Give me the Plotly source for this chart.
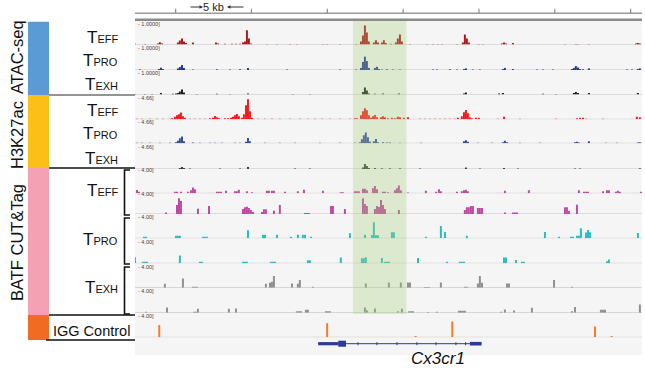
import plotly.graph_objects as go

W, H = 645, 368
def X(px): return px / W
def Y(py): return 1 - py / H

FONT = "Liberation Sans, Arial, sans-serif"

# ---------------- data (genomic position in kb, signal value) ----------------
ruler_ticks_kb = [0, 5, 10, 15, 20, 25, 30]
view_kb = [-2.68, 30.75]
highlight_kb = [11.69, 15.22]
bin_kb = 0.13

atac_teff_pos = [-2.68,-2.02,-1.17,-1.04,-0.90,0.15,0.28,0.42,0.55,0.68,1.14,2.66,2.79,3.25,3.71,3.98,4.24,4.44,4.57,4.70,4.83,4.96,6.02,6.68,7.53,7.99,9.71,9.97,10.83,11.89,12.22,12.35,12.48,12.61,12.74,13.07,13.21,13.34,13.60,13.73,13.86,14.19,14.52,14.65,14.79,14.92,15.45,16.57,16.97,17.30,17.56,18.55,18.94,19.07,19.20,19.33,19.99,20.26,21.51,21.65,21.78,22.24,25.67,26.39,26.53,27.25,30.35,30.48,30.61]
atac_teff_val = [0.03,0.02,0.04,0.10,0.04,0.09,0.17,0.26,0.13,0.07,0.09,0.09,0.04,0.03,0.03,0.03,0.03,0.09,0.13,0.62,0.26,0.04,0.02,0.02,0.02,0.02,0.02,0.02,0.02,0.02,0.13,0.39,0.83,0.52,0.13,0.09,0.19,0.09,0.09,0.19,0.07,0.03,0.09,0.26,0.43,0.13,0.02,0.02,0.02,0.02,0.02,0.02,0.09,0.43,0.26,0.09,0.02,0.02,0.04,0.09,0.04,0.07,0.02,0.02,0.02,0.02,0.04,0.07,0.04]

atac_tpro_pos = [-2.35,-1.10,-0.97,-0.84,0.15,0.28,0.42,0.55,1.14,2.72,3.58,4.24,4.77,7.34,10.83,11.89,12.22,12.35,12.48,12.61,12.74,13.14,13.28,13.41,13.60,13.93,14.33,14.79,16.97,17.23,18.08,18.55,19.01,19.14,19.60,20.06,21.58,21.71,22.24,23.82,24.22,24.88,26.13,26.26,26.39,26.53,26.66,26.86,27.25,29.76,30.09,30.48,30.61]
atac_tpro_val = [0.02,0.04,0.10,0.04,0.07,0.13,0.22,0.09,0.02,0.03,0.02,0.03,0.09,0.02,0.02,0.02,0.09,0.35,0.58,0.39,0.09,0.09,0.14,0.04,0.02,0.03,0.02,0.02,0.02,0.02,0.03,0.02,0.04,0.07,0.02,0.02,0.04,0.09,0.04,0.02,0.02,0.02,0.04,0.09,0.17,0.11,0.04,0.03,0.07,0.02,0.02,0.04,0.07]

atac_texh_pos = [-2.68,-2.02,-1.56,-0.97,-0.18,0.02,0.15,0.28,0.42,0.55,1.40,2.72,3.58,4.77,7.73,8.85,12.35,12.48,12.61,12.74,13.14,13.67,14.72,19.01,19.14,21.32,21.58,24.22,25.08,26.26,26.39,26.53,27.25,30.48]
atac_texh_val = [0.02,0.02,0.02,0.07,0.03,0.04,0.07,0.13,0.22,0.09,0.02,0.03,0.02,0.04,0.02,0.02,0.11,0.30,0.17,0.04,0.03,0.04,0.04,0.04,0.09,0.04,0.07,0.03,0.02,0.07,0.11,0.07,0.07,0.07]

h3k_teff_pos = [-2.55,-2.22,-1.69,-1.23,-0.84,-0.38,-0.24,-0.05,0.09,0.22,0.35,0.48,0.61,0.94,1.27,1.60,1.93,2.26,2.46,2.59,2.72,2.85,3.25,3.45,3.65,3.78,3.91,4.04,4.17,4.37,4.50,4.64,4.77,4.90,5.03,5.43,5.89,6.35,6.87,7.53,8.19,8.72,9.18,9.65,10.17,10.83,11.49,11.82,11.95,12.22,12.35,12.48,12.61,12.74,12.88,13.01,13.14,13.28,13.54,13.67,13.80,14.00,14.26,14.46,14.65,14.79,15.05,15.32,16.11,16.44,16.77,17.10,17.43,17.76,18.08,18.41,18.61,18.87,19.01,19.14,19.27,19.40,19.53,19.80,19.99,21.25,21.65,22.70,25.08,26.46,26.66,26.86,27.06,28.18,30.41,30.61]
h3k_teff_val = [0.10,0.10,0.10,0.10,0.10,0.10,0.20,0.51,0.81,1.01,1.36,0.61,0.30,0.10,0.10,0.10,0.10,0.20,0.30,0.67,0.41,0.20,0.20,0.20,0.30,0.51,0.81,1.07,0.61,0.30,1.01,2.84,4.05,1.62,0.30,0.10,0.10,0.10,0.10,0.10,0.10,0.10,0.10,0.10,0.10,0.10,0.10,0.20,0.20,0.81,1.62,2.23,1.82,0.81,0.30,0.61,0.87,0.41,0.41,0.61,0.41,0.20,0.30,0.20,0.51,0.41,0.30,0.41,0.12,0.12,0.12,0.12,0.12,0.12,0.12,0.12,0.30,0.61,1.42,1.88,1.22,0.41,0.20,0.30,0.30,0.10,0.51,0.10,0.10,0.20,0.30,0.30,0.10,0.10,0.51,0.41]

h3k_tpro_pos = [-2.55,-2.22,-1.69,-1.04,-0.38,0.02,0.15,0.28,0.42,0.55,1.14,1.60,2.26,2.59,3.05,3.91,4.24,4.64,4.77,4.90,5.89,6.87,7.87,9.51,10.83,11.82,12.15,12.28,12.41,12.54,12.68,12.81,13.07,13.21,13.34,13.67,13.93,14.13,14.79,16.18,19.01,19.14,19.27,19.93,20.85,21.58,21.71,21.85,22.70,24.02,26.33,26.46,26.59,27.25,28.37,29.09,30.48,30.61]
h3k_tpro_val = [0.10,0.10,0.10,0.10,0.10,0.20,0.51,1.01,1.36,0.41,0.14,0.10,0.10,0.10,0.10,0.10,0.10,0.30,1.07,0.41,0.10,0.10,0.10,0.10,0.10,0.10,0.20,0.81,1.62,2.17,1.22,0.30,0.41,0.87,0.20,0.20,0.14,0.14,0.10,0.10,0.41,0.61,0.30,0.10,0.10,0.20,0.51,0.20,0.10,0.10,0.20,0.30,0.14,0.41,0.10,0.10,0.14,0.20]

h3k_texh_pos = [0.28,0.42,0.55,0.94,2.92,4.24,4.77,7.87,8.85,12.35,12.48,12.61,12.74,13.14,13.60,14.13,14.79,16.11,19.14,20.06,21.65,22.57,26.33,26.66,30.61]
h3k_texh_val = [0.20,0.41,0.20,0.10,0.10,0.10,0.41,0.10,0.10,0.30,1.01,0.61,0.20,0.20,0.14,0.14,0.14,0.10,0.30,0.10,0.20,0.10,0.10,0.10,0.14]

batf_teff1_pos = [-2.55,-2.42,-0.05,0.09,0.35,0.81,1.01,1.14,1.27,2.72,2.85,2.99,3.32,3.91,4.04,4.17,4.70,5.03,6.02,6.15,6.35,6.48,7.21,8.06,8.46,9.71,10.89,11.02,11.82,11.95,12.08,12.35,12.48,12.61,13.01,13.14,13.28,13.67,13.80,14.00,14.46,14.59,14.72,14.85,15.32,16.50,17.17,17.36,17.49,18.55,18.87,19.01,19.14,19.27,21.71,23.29,26.59,26.92,27.06,27.19,28.18,28.44,28.57,29.03,29.16,29.29,30.68]
batf_teff1_val = [0.57,0.26,0.26,0.26,0.26,0.26,0.52,0.99,0.70,0.26,0.26,0.26,0.44,0.35,0.35,0.61,0.35,0.17,0.44,0.44,0.44,0.44,0.26,0.35,0.61,0.44,0.17,0.17,0.35,0.35,0.35,0.78,0.78,0.52,0.87,1.27,0.70,0.26,0.26,0.17,0.52,0.87,1.34,0.52,0.12,0.44,0.26,0.70,0.35,0.26,0.35,0.52,0.61,0.35,0.44,0.52,0.52,0.26,0.26,0.26,0.35,0.52,0.52,0.26,0.44,0.26,0.26]

batf_teff2_pos = [-0.64,0.09,0.22,0.35,1.47,2.20,4.44,4.57,4.70,4.83,4.96,5.10,5.69,5.82,5.95,6.48,6.87,8.53,8.66,8.79,10.24,10.37,11.16,12.35,12.48,12.61,13.14,13.28,13.41,13.54,13.67,13.80,14.72,19.07,19.20,19.33,19.47,19.60,19.93,20.06,20.20,21.71,22.24,22.37,22.51,25.67,25.80,25.94,26.46]
batf_teff2_val = [0.26,1.57,2.73,2.26,0.92,1.39,0.87,1.17,1.27,1.04,0.70,0.35,0.35,0.82,0.82,0.57,1.57,0.17,0.17,0.17,1.39,1.39,0.87,2.73,1.74,1.39,0.87,1.39,1.22,2.44,1.57,0.87,0.70,0.70,1.17,1.17,1.39,1.39,1.04,1.04,1.04,0.26,0.26,0.26,0.26,1.17,1.17,0.52,1.62]

batf_tpro1_pos = [-2.09,-1.96,0.02,0.15,0.28,1.80,1.93,2.06,4.77,5.76,5.89,6.68,7.60,8.06,8.39,8.53,8.92,11.49,12.48,12.94,13.07,13.21,13.34,14.26,14.39,16.50,17.49,17.76,19.20,24.35,25.28,26.07,26.20,26.46,26.59,26.72,27.06,27.19,27.32,30.48]
batf_tpro1_val = [0.26,0.26,0.44,0.44,0.44,0.26,0.26,0.26,1.39,0.61,0.61,0.61,0.26,0.61,0.61,0.61,0.26,0.87,0.61,0.57,2.78,0.52,0.52,1.04,1.04,0.26,2.14,1.10,0.44,1.10,0.26,0.26,0.26,0.44,0.44,1.74,0.99,1.44,1.04,0.92]

batf_tpro2_pos = [-2.68,-2.16,-2.02,-1.89,0.28,1.60,1.73,4.44,4.57,4.70,6.28,6.42,6.55,8.72,8.85,10.89,12.28,12.41,12.54,13.60,13.80,13.93,14.07,15.98,17.89,18.74,18.87,19.01,21.65,21.78,22.44,22.83,22.97,28.44,28.57]
batf_tpro2_val = [1.04,0.26,0.26,0.26,1.34,0.26,0.26,0.26,0.26,0.26,0.26,0.26,0.26,0.52,0.52,0.99,0.87,0.87,1.04,0.92,0.26,0.26,0.26,0.92,0.26,0.26,0.26,0.26,0.99,0.99,0.57,0.26,0.26,0.35,0.64]

batf_texh1_pos = [-0.71,0.48,1.14,1.27,1.40,5.95,6.22,6.35,6.48,7.67,8.06,8.19,9.05,12.54,14.06,14.85,15.32,15.45,16.44,16.57,16.70,17.49,19.07,19.20,19.93,20.06,20.20,21.85,21.98,24.95,26.13]
batf_texh1_val = [0.70,1.62,0.17,0.17,0.17,0.70,0.87,1.04,2.04,0.75,0.70,1.34,0.17,0.75,0.92,0.92,0.92,0.92,0.12,0.12,0.12,0.92,0.17,0.17,0.75,2.04,0.87,0.75,0.75,1.34,0.17]

batf_texh2_pos = [-1.96,-0.57,1.21,1.34,1.47,3.51,3.98,7.99,8.13,8.26,8.59,8.72,9.91,10.04,10.17,12.48,12.61,13.14,14.65,14.92,15.38,15.52,15.65,16.64,17.23,18.68,18.81,18.94,19.07,21.45,21.71,22.31,23.49,26.13,26.33,28.04,28.18,28.31,30.61]
batf_texh2_val = [0.17,0.92,0.17,0.17,0.70,0.70,0.75,0.26,0.26,0.26,0.52,0.52,0.26,0.26,0.26,0.92,0.44,0.75,0.26,0.70,0.26,0.26,0.26,0.12,0.17,0.35,0.35,0.35,0.35,0.17,0.57,0.40,0.87,0.26,0.99,0.52,0.52,0.52,1.44]

igg_pos = [-1.08, 9.99, 15.82, 18.24, 27.65, 28.75]
igg_val = [2.14, 2.44, 0.23, 2.73, 1.86, 0.23]

# gene model of Cx3cr1 (kb)
gene_span = [9.40, 20.17]
gene_utr = [9.40, 10.72]
gene_cds = [10.72, 11.23]
gene_exon2 = [19.40, 20.17]
gene_strand_marks = [12.02, 13.27, 14.59, 15.91, 17.17, 18.48, 19.12]

# ---------------- track layout ----------------
tracks = [
    (atac_teff_pos, atac_teff_val, 1.0, "1.0000]", "#a8181c", 44.5, 24.0),
    (atac_tpro_pos, atac_tpro_val, 1.0, "1.0000]", "#26378f", 70.0, 48.3),
    (atac_texh_pos, atac_texh_val, 1.0, "1.0000]", "#1c1c1c", 94.5, 72.7),
    (h3k_teff_pos, h3k_teff_val, 4.66, "4.66]", "#f21c1c", 119.3, 98.3),
    (h3k_tpro_pos, h3k_tpro_val, 4.66, "4.66]", "#2f4c9e", 143.3, 122.3),
    (h3k_texh_pos, h3k_texh_val, 4.66, "4.66]", "#3c3c3c", 169.0, 146.7),
    (batf_teff1_pos, batf_teff1_val, 4.0, "4.00]", "#bb4aa0", 193.3, 170.0),
    (batf_teff2_pos, batf_teff2_val, 4.0, "4.00]", "#bb4aa0", 214.0, 194.3),
    (batf_tpro1_pos, batf_tpro1_val, 4.0, "4.00]", "#2bbdbd", 238.3, 217.3),
    (batf_tpro2_pos, batf_tpro2_val, 4.0, "4.00]", "#2bbdbd", 263.3, 241.7),
    (batf_texh1_pos, batf_texh1_val, 4.0, "4.00]", "#8f8f8f", 287.7, 266.7),
    (batf_texh2_pos, batf_texh2_val, 4.0, "4.00]", "#8f8f8f", 312.7, 291.0),
    (igg_pos, igg_val, 4.0, "4.00]", "#f47a2c", 337.3, 315.7),
]
TRACK_H = 23.0

fig = go.Figure()
shapes = []
annotations = []
layout = dict(
    width=W, height=H, margin=dict(l=0, r=0, t=0, b=0),
    paper_bgcolor="white", plot_bgcolor="rgba(0,0,0,0)",
    showlegend=False, barmode="overlay", font=dict(family=FONT),
    xaxis=dict(domain=[X(135), X(642)], range=view_kb, visible=False, fixedrange=True),
)

shapes.append(dict(type="rect", xref="paper", yref="paper", x0=X(135), x1=X(642),
                   y0=Y(355), y1=Y(20), fillcolor="#f5f5f5", line_width=0, layer="below"))

for i, (pos, val, ymax, lab, col, base, laby) in enumerate(tracks):
    n = i + 1
    yname = "yaxis" if n == 1 else f"yaxis{n}"
    yref = "y" if n == 1 else f"y{n}"
    layout[yname] = dict(domain=[Y(base), Y(base - TRACK_H)], range=[0, ymax],
                         visible=False, fixedrange=True, anchor="x")
    fig.add_trace(go.Bar(x=pos, y=val, width=bin_kb, xaxis="x", yaxis=yref,
                         marker=dict(color=col, line=dict(width=0)), hoverinfo="skip"))
    shapes.append(dict(type="line", xref="x", yref=yref, x0=view_kb[0], x1=view_kb[1],
                       y0=0, y1=0, line=dict(color="#c4c4c4", width=1), layer="below"))
    annotations.append(dict(text="- " + lab, x=X(135.5), y=Y(laby), xref="paper", yref="paper",
                            xanchor="left", yanchor="middle", showarrow=False,
                            font=dict(size=5.5, color="#444")))

# ruler
shapes.append(dict(type="line", xref="paper", yref="paper", x0=X(135), x1=X(642),
                   y0=Y(13.3), y1=Y(13.3), line=dict(color="#9a9a9a", width=1.5)))
shapes.append(dict(type="line", xref="paper", yref="paper", x0=X(135), x1=X(642),
                   y0=Y(19.8), y1=Y(19.8), line=dict(color="#8a8a8a", width=2.5)))
for t in ruler_ticks_kb:
    shapes.append(dict(type="line", xref="x", yref="paper", x0=t, x1=t,
                       y0=Y(13.3), y1=Y(8.8), line=dict(color="#8a8a8a", width=1.2)))
annotations.append(dict(text="5 kb", x=2.5, y=Y(6.8), xref="x", yref="paper",
                        showarrow=False, font=dict(size=11, color="#222"),
                        xanchor="center", yanchor="middle"))
annotations.append(dict(text="", x=X(203), y=Y(7), xref="paper", yref="paper", showarrow=True,
                        ax=-14, ay=0, arrowhead=2, arrowsize=0.7, arrowwidth=1, arrowcolor="#333"))
annotations.append(dict(text="", x=X(227), y=Y(7), xref="paper", yref="paper", showarrow=True,
                        ax=18, ay=0, arrowhead=2, arrowsize=0.7, arrowwidth=1, arrowcolor="#333"))

# highlight region
shapes.append(dict(type="rect", xref="x", yref="paper", x0=highlight_kb[0], x1=highlight_kb[1],
                   y0=Y(314), y1=Y(21), fillcolor="rgba(165,205,120,0.30)", line_width=0,
                   layer="above"))

# gene model
GC = "#2a3a98"
gy = 343.7
shapes.append(dict(type="line", xref="x", yref="paper", x0=gene_span[0], x1=gene_span[1],
                   y0=Y(gy), y1=Y(gy), line=dict(color=GC, width=1)))
shapes.append(dict(type="rect", xref="x", yref="paper", x0=gene_utr[0], x1=gene_utr[1],
                   y0=Y(gy + 1.6), y1=Y(gy - 1.6), fillcolor=GC, line_width=0))
shapes.append(dict(type="rect", xref="x", yref="paper", x0=gene_cds[0], x1=gene_cds[1],
                   y0=Y(gy + 3), y1=Y(gy - 3), fillcolor=GC, line_width=0))
shapes.append(dict(type="rect", xref="x", yref="paper", x0=gene_exon2[0], x1=gene_exon2[1],
                   y0=Y(gy + 1.8), y1=Y(gy - 1.8), fillcolor=GC, line_width=0))
for m in gene_strand_marks:
    shapes.append(dict(type="line", xref="x", yref="paper", x0=m, x1=m,
                       y0=Y(gy + 1.5), y1=Y(gy - 1.5), line=dict(color=GC, width=1)))
annotations.append(dict(text="<i>Cx3cr1</i>", x=X(438), y=Y(358.5), xref="paper", yref="paper",
                        showarrow=False, font=dict(size=17, color="#111"),
                        xanchor="center", yanchor="middle"))

# ---------------- left panel ----------------
blocks = [("#5b9bd5", 21.7, 95), ("#fcbf17", 95, 168), ("#f4a1b4", 168, 315), ("#f26b23", 315, 340)]
for c, y0, y1 in blocks:
    shapes.append(dict(type="rect", xref="paper", yref="paper", x0=X(28), x1=X(49),
                       y0=Y(y1), y1=Y(y0), fillcolor=c, line_width=0))
for yy, c, x0 in [(95, "#707070", 49), (168, "#111", 49), (315, "#111", 49), (340, "#111", 46)]:
    shapes.append(dict(type="line", xref="paper", yref="paper", x0=X(x0), x1=X(135),
                       y0=Y(yy), y1=Y(yy), line=dict(color=c, width=1.5)))
for ya, yb in [(170, 215), (218, 264), (267, 314)]:
    shapes.append(dict(type="path", xref="paper", yref="paper",
                       path=f"M {X(130)} {Y(ya)} L {X(124.5)} {Y(ya)} L {X(124.5)} {Y(yb)} L {X(130)} {Y(yb)}",
                       line=dict(color="#111", width=1.6)))

for txt, yc in [("ATAC-seq", 57), ("H3K27ac", 135), ("BATF CUT&amp;Tag", 243)]:
    annotations.append(dict(text=txt, x=X(17), y=Y(yc), xref="paper", yref="paper",
                            textangle=-90, showarrow=False, font=dict(size=16.5, color="#111"),
                            xanchor="center", yanchor="middle"))

def tlabel(sub):
    return f'T<span style="font-size:11px">{sub}</span>'

for sub, base in [("EFF", 43.3), ("PRO", 66.7), ("EXH", 90.7), ("EFF", 116.7), ("PRO", 140),
                  ("EXH", 164), ("EFF", 196), ("PRO", 245), ("EXH", 293.3)]:
    annotations.append(dict(text=tlabel(sub), x=X(119.5), y=Y(base - 6), xref="paper", yref="paper",
                            showarrow=False, font=dict(size=17, color="#111"),
                            xanchor="right", yanchor="middle"))
annotations.append(dict(text="IGG Control", x=X(91.5), y=Y(330.5), xref="paper", yref="paper",
                        showarrow=False, font=dict(size=14.5, color="#111"),
                        xanchor="center", yanchor="middle"))

layout["shapes"] = shapes
layout["annotations"] = annotations
fig.update_layout(**layout)
fig.write_html("out.html", config={"displayModeBar": False, "staticPlot": True},
               post_script="document.body.style.margin='0';document.body.style.overflow='hidden';")
